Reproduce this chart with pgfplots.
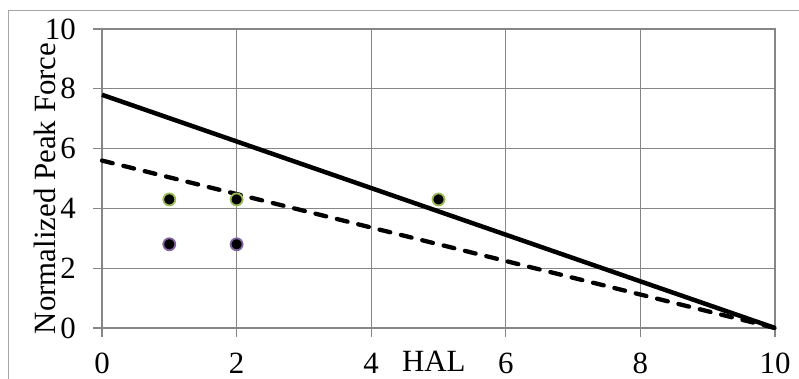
\documentclass[border=0pt]{standalone}
\usepackage{pgfplots}
\pgfplotsset{compat=1.18}
\usepackage{fontspec}
\setmainfont{Liberation Serif}
\definecolor{gridgray}{RGB}{134,134,134}
\definecolor{framegray}{RGB}{165,165,165}
\definecolor{mgreen}{RGB}{155,187,89}
\definecolor{mpurple}{RGB}{128,100,162}
\begin{document}
\begin{tikzpicture}
\useasboundingbox (0,0) rectangle (799bp,379bp);
\draw[framegray, line width=1bp] (8bp,0) -- (8bp,368bp) -- (799bp,368bp);
\begin{axis}[
  at={(102bp,51bp)}, anchor=south west,
  scale only axis, width=673bp, height=299bp,
  xmin=0, xmax=10, ymin=0, ymax=10,
  xtick={0,2,4,6,8,10}, ytick={0,2,4,6,8,10},
  grid=major, grid style={gridgray, line width=1.2bp},
  axis line style={gridgray, line width=1.2bp},
  tick style={gridgray, line width=1.2bp},
  tick align=outside, major tick length=9bp,
  xtick pos=bottom, ytick pos=left,
  font=\fontsize{31}{35}\selectfont,
  /pgf/number format/assume math mode=true,
  xticklabel style={anchor=base, inner sep=0pt, yshift=-36bp},
  yticklabel style={anchor=east, inner sep=0pt, xshift=-17bp},
  xlabel={HAL},
  xlabel style={at={(axis description cs:0.493,0)}, anchor=base, inner sep=0pt, yshift=-43bp},
  ylabel={Normalized Peak Force},
  ylabel style={at={(axis description cs:-0.0698,0.4666)}, anchor=base, inner sep=0pt},
  clip=false,
]
\addplot[black, line width=4.5bp, line cap=butt] coordinates {(0,7.8) (10,0)};
\addplot[black, line width=4.3bp, line cap=round, dash pattern=on 11bp off 11bp] coordinates {(0,5.6) (10,0)};
\addplot[only marks, mark=*, mark size=6bp, mark options={fill=black, draw=mgreen, line width=1.8bp}] coordinates {(1,4.3) (2,4.3) (5,4.3)};
\addplot[only marks, mark=*, mark size=6bp, mark options={fill=black, draw=mpurple, line width=1.8bp}] coordinates {(1,2.8) (2,2.8)};
\end{axis}
\end{tikzpicture}
\end{document}
